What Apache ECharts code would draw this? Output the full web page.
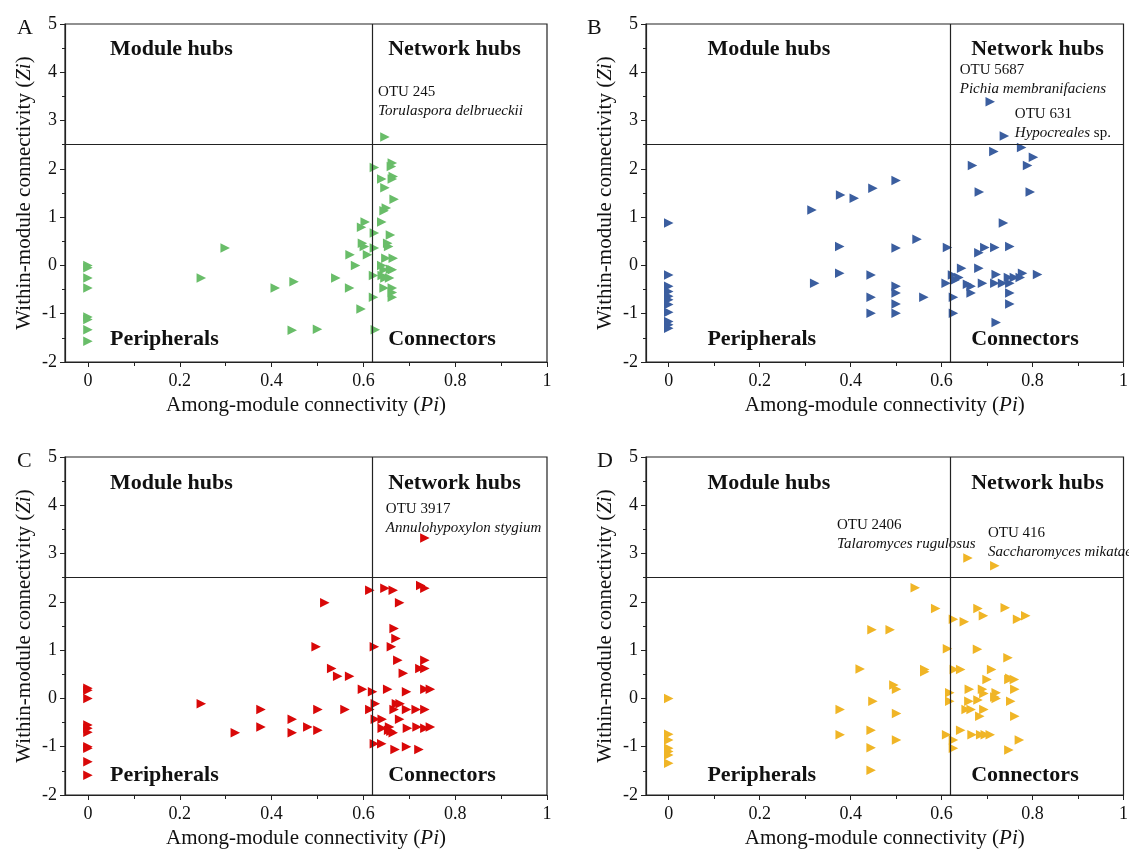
<!DOCTYPE html>
<html>
<head>
<meta charset="utf-8">
<script src="https://cdn.jsdelivr.net/npm/echarts@6/dist/echarts.min.js"></script>
<style>
html,body{margin:0;padding:0;background:#fff;}
#c{width:1131px;height:850px;}
</style>
</head>
<body>
<div id="c"></div>
<script>
// ---------- DATA ----------
const xTickLabels = [0, 0.2, 0.4, 0.6, 0.8, 1];
const xMinorTicks = [0.1, 0.3, 0.5, 0.7, 0.9];
const piThreshold = 0.62;
const ziThreshold = 2.5;

const pointsA = [
  [0,0.0],[0,-0.05],[0,-0.26],[0,-0.47],[0,-1.07],[0,-1.12],[0,-1.33],[0,-1.57],
  [0.299,0.36],[0.247,-0.26],[0.408,-0.47],[0.449,-0.34],[0.445,-1.34],[0.50,-1.32],
  [0.54,-0.26],[0.57,-0.47],[0.571,0.22],[0.583,0.0],[0.595,-0.9],[0.596,0.79],
  [0.604,0.9],[0.598,0.46],[0.602,0.39],[0.609,0.22],[0.624,2.03],[0.624,0.67],
  [0.624,0.36],[0.622,-0.21],[0.622,-0.66],[0.626,-1.33],[0.647,2.66],[0.640,1.79],
  [0.647,1.61],[0.65,1.19],[0.645,1.13],[0.64,0.9],[0.653,0.46],[0.655,0.39],
  [0.649,0.15],[0.64,0.0],[0.645,-0.09],[0.641,-0.21],[0.647,-0.26],[0.645,-0.47],
  [0.663,2.12],[0.661,2.05],[0.665,1.84],[0.663,1.79],[0.667,1.37],[0.659,0.63],
  [0.665,0.15],[0.663,-0.09],[0.657,-0.26],[0.663,-0.47],[0.663,-0.56],[0.663,-0.66],
  [0.659,-0.08]
];

const pointsB = [
  [0,0.88],[0,-0.2],[0,-0.43],[0,-0.54],[0,-0.64],[0,-0.71],[0,-0.81],[0,-0.97],
  [0,-1.16],[0,-1.23],[0,-1.3],
  [0.315,1.15],[0.321,-0.37],[0.378,1.46],[0.408,1.39],[0.449,1.6],[0.5,1.76],
  [0.376,0.39],[0.376,-0.16],[0.445,-0.2],[0.445,-0.66],[0.445,-0.99],
  [0.5,0.36],[0.5,-0.43],[0.5,-0.57],[0.5,-0.8],[0.5,-0.99],[0.546,0.54],[0.561,-0.66],
  [0.613,0.37],[0.61,-0.37],[0.624,-0.2],[0.626,-0.66],[0.626,-0.99],[0.63,-0.3],
  [0.638,-0.25],[0.644,-0.06],[0.657,-0.39],[0.665,-0.43],[0.665,-0.57],[0.682,-0.06],
  [0.682,0.26],[0.69,-0.37],[0.695,0.37],[0.668,2.07],[0.683,1.52],[0.707,3.39],
  [0.715,2.36],[0.717,0.37],[0.717,-0.37],[0.72,-0.19],[0.72,-1.18],[0.736,0.88],
  [0.738,2.68],[0.734,-0.37],[0.747,-0.25],[0.75,0.39],[0.75,-0.37],[0.75,-0.57],
  [0.75,-0.8],[0.76,-0.25],[0.773,-0.25],[0.778,-0.16],[0.776,2.44],[0.789,2.07],
  [0.802,2.24],[0.795,1.52],[0.811,-0.19]
];

const pointsC = [
  [0,0.21],[0,0.17],[0,0.0],[0,-0.55],[0,-0.62],[0,-0.7],[0,-1.0],[0,-1.03],[0,-1.31],[0,-1.59],
  [0.247,-0.11],[0.321,-0.71],[0.377,-0.23],[0.377,-0.59],[0.445,-0.43],[0.445,-0.71],
  [0.479,-0.59],[0.501,-0.66],[0.501,-0.23],[0.497,1.07],[0.516,1.98],[0.531,0.62],
  [0.544,0.46],[0.57,0.46],[0.56,-0.23],[0.598,0.19],[0.614,2.24],[0.614,-0.23],
  [0.62,0.14],[0.624,1.07],[0.626,-0.11],[0.626,-0.43],[0.624,-0.94],[0.64,-0.94],
  [0.641,-0.43],[0.641,-0.62],[0.647,2.28],[0.653,0.19],[0.657,-0.59],[0.661,1.07],
  [0.665,2.24],[0.667,1.45],[0.671,1.24],[0.679,1.98],[0.675,0.79],[0.667,-0.23],
  [0.672,-0.11],[0.679,-0.43],[0.665,-0.71],[0.669,-1.06],[0.687,0.52],[0.694,0.14],
  [0.694,-0.23],[0.696,-0.62],[0.694,-1.0],[0.68,-0.11],[0.715,-0.23],[0.717,-0.59],
  [0.721,-1.06],[0.723,0.62],[0.725,2.34],[0.734,2.28],[0.734,3.32],[0.734,0.79],
  [0.734,0.62],[0.734,0.19],[0.734,-0.23],[0.734,-0.62],[0.746,0.19],[0.746,-0.59],
  [0.655,-0.66],[0.66,-0.68]
];

const pointsD = [
  [0,0.0],[0,-0.74],[0,-0.86],[0,-1.03],[0,-1.1],[0,-1.17],[0,-1.34],
  [0.377,-0.23],[0.377,-0.75],[0.421,0.61],[0.447,1.42],[0.487,1.42],[0.449,-0.06],
  [0.445,-0.66],[0.445,-1.02],[0.445,-1.49],[0.495,0.28],[0.501,0.19],[0.501,-0.31],
  [0.501,-0.86],[0.542,2.29],[0.563,0.6],[0.563,0.55],[0.587,1.86],[0.613,1.03],
  [0.611,-0.75],[0.618,0.12],[0.618,-0.06],[0.626,1.64],[0.628,0.6],[0.642,0.6],
  [0.626,-0.86],[0.626,-1.03],[0.642,-0.66],[0.65,1.59],[0.658,2.91],[0.654,-0.23],
  [0.665,-0.23],[0.661,0.19],[0.66,-0.06],[0.667,-0.75],[0.68,1.86],[0.679,1.02],
  [0.68,-0.03],[0.684,-0.37],[0.692,1.71],[0.69,0.19],[0.693,0.1],[0.693,-0.23],
  [0.686,-0.75],[0.696,-0.75],[0.7,0.39],[0.707,-0.75],[0.71,0.6],[0.717,2.75],
  [0.717,0.03],[0.72,0.12],[0.72,0.0],[0.74,1.88],[0.746,0.84],[0.748,0.39],
  [0.752,-0.06],[0.748,-1.07],[0.76,0.39],[0.761,0.19],[0.761,-0.37],[0.767,1.64],
  [0.785,1.71],[0.771,-0.86],[0.75,0.42]
];

const panelLetters = ['A', 'B', 'C', 'D'];
const panelColors = ['#69bd69', '#3b5e9f', '#d90808', '#f0b526'];
const quadrantNames = ['Module hubs', 'Network hubs', 'Peripherals', 'Connectors'];
// quadrant label anchors (left x) per panel, and y for top / bottom rows
const quadLeftX = [[0.048, 0.654], [0.085, 0.665], [0.048, 0.654], [0.085, 0.665]];
const quadRowY = [[4.48, -1.52], [4.48, -1.52], [4.46, -1.59], [4.46, -1.59]];

// annotations: [x, y(mid of two lines), OTU id, species (italic), suffix]
const annotA = [[0.632, 3.39, 'OTU 245', 'Torulaspora delbrueckii', '']];
const annotB = [[0.64, 3.84, 'OTU 5687', 'Pichia membranifaciens', ''],
                [0.761, 2.93, 'OTU 631', 'Hypocreales', ' sp.']];
const annotC = [[0.649, 3.735, 'OTU 3917', 'Annulohypoxylon stygium', '']];
const annotD = [[0.37, 3.40, 'OTU 2406', 'Talaromyces rugulosus', ''],
                [0.702, 3.22, 'OTU 416', 'Saccharomyces mikatae', '']];

const panelPoints = [pointsA, pointsB, pointsC, pointsD];
const panelAnnots = [annotA, annotB, annotC, annotD];

// ---------- LAYOUT ----------
const grids = [
  {left: 65, top: 24, width: 482, height: 338},
  {left: 646, top: 24, width: 482, height: 338},
  {left: 65, top: 457, width: 482, height: 338},
  {left: 646, top: 457, width: 482, height: 338}
];
const letterPos = [[12, 12], [582, 12], [12, 445], [592, 445]];
const FONT = '"Liberation Serif", "Times New Roman", serif';
const INK = '#111';

const option = {
  backgroundColor: '#ffffff',
  animation: false,
  textStyle: {fontFamily: FONT},
  title: panelLetters.map((l, i) => ({
    text: l, left: letterPos[i][0], top: letterPos[i][1],
    textStyle: {fontFamily: FONT, fontWeight: 'normal', fontSize: 22, color: INK}
  })),
  grid: grids.map(g => Object.assign({show: true, borderColor: '#222', borderWidth: 1.2, backgroundColor: 'transparent'}, g)),
  // text running past the right border of panel D is cut off there, as in the original
  graphic: [{type: 'rect', left: 1129, top: 440, shape: {width: 10, height: 150}, style: {fill: '#ffffff'}, z: 100, silent: true}],
  xAxis: [],
  yAxis: [],
  series: []
};

for (let i = 0; i < 4; i++) {
  option.xAxis.push({
    type: 'value', gridIndex: i, min: -0.05, max: 1, position: 'bottom',
    name: '{n|Among-module connectivity (}{i|Pi}{n|)}',
    nameLocation: 'middle', nameGap: 33,
    nameTextStyle: {rich: {
      n: {fontFamily: FONT, fontSize: 21, color: INK},
      i: {fontFamily: FONT, fontSize: 21, color: INK, fontStyle: 'italic'}
    }},
    axisLine: {show: true, onZero: false, lineStyle: {color: '#222', width: 1.2}},
    axisTick: {show: true, inside: false, length: 5, customValues: xTickLabels, lineStyle: {color: '#222'}},
    axisLabel: {show: true, customValues: xTickLabels, margin: 10, fontFamily: FONT, fontSize: 18, color: INK,
      formatter: v => String(Math.round(v * 10) / 10)},
    splitLine: {show: false}
  });
  option.xAxis.push({
    type: 'value', gridIndex: i, min: -0.05, max: 1, position: 'bottom',
    axisLine: {show: false, onZero: false},
    axisTick: {show: true, inside: false, length: 4, customValues: xMinorTicks, lineStyle: {color: '#222'}},
    axisLabel: {show: false},
    splitLine: {show: false}
  });
  option.yAxis.push({
    type: 'value', gridIndex: i, min: -2, max: 5, interval: 1,
    name: '{n|Within-module connectivity (}{i|Zi}{n|)}',
    nameLocation: 'middle', nameGap: 30, nameRotate: 90,
    nameTextStyle: {rich: {
      n: {fontFamily: FONT, fontSize: 21, color: INK},
      i: {fontFamily: FONT, fontSize: 21, color: INK, fontStyle: 'italic'}
    }},
    axisLine: {show: true, onZero: false, lineStyle: {color: '#222', width: 1.2}},
    axisTick: {show: true, inside: false, length: 5, lineStyle: {color: '#222'}},
    minorTick: {show: true, splitNumber: 2, length: 3, lineStyle: {color: '#222'}},
    axisLabel: {margin: 8, fontFamily: FONT, fontSize: 18, color: INK},
    splitLine: {show: false}
  });

  const xi = i * 2;
  option.series.push({
    type: 'scatter', xAxisIndex: xi, yAxisIndex: i,
    data: panelPoints[i],
    symbol: 'triangle', symbolRotate: -90, symbolSize: 9.5,
    itemStyle: {color: panelColors[i], opacity: 1},
    markLine: {
      silent: true, symbol: 'none', animation: false,
      label: {show: false},
      lineStyle: {color: '#222', width: 1.2, type: 'solid', opacity: 1},
      data: [{xAxis: piThreshold}, {yAxis: ziThreshold}]
    },
    z: 3
  });
  const ql = quadLeftX[i], qy = quadRowY[i];
  option.series.push({
    type: 'scatter', xAxisIndex: xi, yAxisIndex: i, silent: true,
    symbolSize: 0, itemStyle: {opacity: 1, color: INK},
    data: [
      {value: [ql[0], qy[0]], name: quadrantNames[0]},
      {value: [ql[1], qy[0]], name: quadrantNames[1]},
      {value: [ql[0], qy[1]], name: quadrantNames[2]},
      {value: [ql[1], qy[1]], name: quadrantNames[3]}
    ],
    label: {show: true, position: 'right', distance: 0, formatter: p => p.name,
      fontFamily: FONT, fontSize: 22, fontWeight: 'bold', color: INK, opacity: 1},
    z: 4
  });
  option.series.push({
    type: 'scatter', xAxisIndex: xi, yAxisIndex: i, silent: true,
    symbolSize: 0, itemStyle: {opacity: 1, color: INK},
    data: panelAnnots[i].map(a => ({value: [a[0], a[1]], otu: a[2], sp: a[3], suf: a[4]})),
    label: {show: true, position: 'right', distance: 0, align: 'left', opacity: 1,
      formatter: p => '{o|' + p.data.otu + '}\n{s|' + p.data.sp + '}' + (p.data.suf ? '{n|' + p.data.suf + '}' : ''),
      rich: {
        o: {fontFamily: FONT, fontSize: 15, color: INK, lineHeight: 19},
        s: {fontFamily: FONT, fontSize: 15, color: INK, fontStyle: 'italic', lineHeight: 19},
        n: {fontFamily: FONT, fontSize: 15, color: INK, lineHeight: 19}
      }},
    z: 4
  });
}

const chart = echarts.init(document.getElementById('c'), null, {renderer: 'canvas'});
chart.setOption(option);
</script>
</body>
</html>
